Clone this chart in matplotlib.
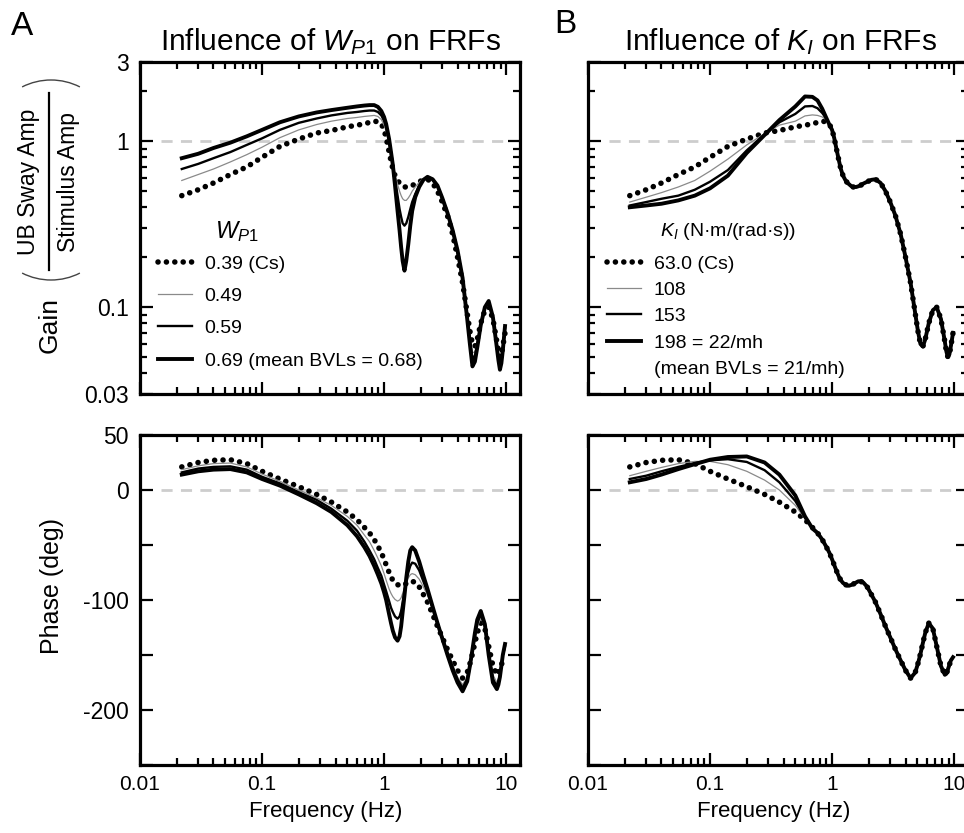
import matplotlib
matplotlib.use("Agg")
import matplotlib.pyplot as plt
from matplotlib.ticker import FixedLocator, FuncFormatter, NullFormatter, LogLocator, MultipleLocator
from matplotlib.lines import Line2D
from matplotlib.patches import Arc

plt.rcParams['font.family'] = ['Liberation Sans', 'DejaVu Sans']
plt.rcParams['mathtext.fontset'] = 'custom'
plt.rcParams['mathtext.rm'] = 'Liberation Sans'
plt.rcParams['mathtext.it'] = 'Liberation Sans:italic'
plt.rcParams['mathtext.bf'] = 'Liberation Sans:bold'

# ---------------- data ----------------
freq = [0.022, 0.03, 0.04, 0.055, 0.075, 0.1, 0.14, 0.2, 0.28, 0.37, 0.5, 0.6, 0.69, 0.76, 0.83,
        0.89, 0.95, 1.0, 1.04, 1.10, 1.14, 1.18, 1.23, 1.29, 1.34, 1.38, 1.42, 1.47, 1.52, 1.58,
        1.64, 1.7, 1.8, 1.94, 2.1, 2.27, 2.5, 2.74, 3.0, 3.31, 3.65, 4.0, 4.4, 4.8, 5.05, 5.3,
        5.55, 5.8, 6.2, 6.7, 7.2, 7.8, 8.4, 8.65, 8.9, 9.15, 9.4, 9.8]

# Gain, Cs (dotted) - common to both panels
gain_cs = [0.47, 0.51, 0.56, 0.63, 0.70, 0.80, 0.93, 1.03, 1.12, 1.16, 1.22, 1.25, 1.27, 1.30, 1.32,
           1.31, 1.27, 1.17, 1.05, 0.86, 0.76, 0.68, 0.62, 0.58, 0.56, 0.55, 0.54, 0.53, 0.53, 0.53,
           0.535, 0.54, 0.555, 0.57, 0.585, 0.59, 0.56, 0.50, 0.43, 0.355, 0.275, 0.20, 0.14, 0.092,
           0.072, 0.06, 0.058, 0.064, 0.08, 0.096, 0.10, 0.085, 0.062, 0.054, 0.05, 0.052, 0.058, 0.07]
# Panel A gain (W_P1)
gain_w049 = [0.58, 0.63, 0.68, 0.75, 0.83, 0.92, 1.05, 1.17, 1.26, 1.32, 1.37, 1.39, 1.41, 1.42, 1.43,
             1.41, 1.35, 1.25, 1.15, 0.97, 0.85, 0.75, 0.64, 0.55, 0.50, 0.47, 0.45, 0.44, 0.44, 0.455,
             0.475, 0.50, 0.53, 0.565, 0.595, 0.61, 0.58, 0.53, 0.45, 0.365, 0.285, 0.21, 0.145, 0.088,
             0.066, 0.053, 0.054, 0.061, 0.079, 0.098, 0.105, 0.085, 0.06, 0.052, 0.047, 0.05, 0.057, 0.073]
gain_w059 = [0.68, 0.73, 0.79, 0.86, 0.95, 1.04, 1.17, 1.29, 1.37, 1.43, 1.48, 1.50, 1.52, 1.53, 1.53,
             1.50, 1.43, 1.33, 1.22, 1.0, 0.86, 0.73, 0.59, 0.47, 0.39, 0.35, 0.32, 0.31, 0.32, 0.35,
             0.39, 0.43, 0.48, 0.54, 0.585, 0.61, 0.59, 0.54, 0.455, 0.37, 0.29, 0.215, 0.148, 0.087,
             0.064, 0.049, 0.051, 0.059, 0.079, 0.099, 0.107, 0.086, 0.058, 0.05, 0.045, 0.048, 0.056, 0.075]
gain_w069 = [0.79, 0.84, 0.91, 0.98, 1.07, 1.17, 1.30, 1.41, 1.49, 1.54, 1.59, 1.62, 1.64, 1.65, 1.65,
             1.61, 1.52, 1.40, 1.27, 1.03, 0.86, 0.72, 0.54, 0.38, 0.29, 0.23, 0.19, 0.166, 0.19, 0.24,
             0.31, 0.38, 0.46, 0.53, 0.585, 0.61, 0.59, 0.54, 0.455, 0.37, 0.29, 0.22, 0.15, 0.085,
             0.06, 0.044, 0.047, 0.057, 0.078, 0.10, 0.109, 0.087, 0.057, 0.048, 0.042, 0.046, 0.055, 0.077]
# Panel B gain (K_I): below 1 Hz differ, above they coincide with Cs
gain_k108 = [0.43, 0.46, 0.49, 0.53, 0.58, 0.66, 0.78, 0.95, 1.11, 1.25, 1.32, 1.42, 1.44, 1.43, 1.40,
             1.35, 1.27] + gain_cs[17:]
gain_k153 = [0.41, 0.43, 0.45, 0.47, 0.51, 0.57, 0.67, 0.88, 1.10, 1.30, 1.46, 1.62, 1.63, 1.58, 1.48,
             1.38, 1.27] + gain_cs[17:]
gain_k198 = [0.40, 0.41, 0.42, 0.44, 0.47, 0.52, 0.62, 0.85, 1.09, 1.34, 1.62, 1.86, 1.85, 1.76, 1.57,
             1.40, 1.26] + gain_cs[17:]

# Phase, Cs (dotted) - common to both panels
phase_cs = [21, 25, 27, 27.5, 24, 17, 10, 3, -4, -11, -20, -27, -34, -39, -45, -51, -57, -63, -68, -75,
            -79, -82, -84.5, -86, -87, -87, -86.5, -86, -85, -84, -83, -83, -84, -88, -95, -102, -113,
            -124, -134, -145, -155, -164, -171, -166, -158, -149, -139, -130, -121, -126, -142, -160,
            -168, -167, -163, -159, -155, -152]
phase_w049 = [18.5, 22, 24, 24.5, 21, 14.5, 8, 0, -7, -14, -24, -32, -41, -47, -55, -62, -69, -76, -82,
              -90, -94, -97, -99.5, -101, -100, -98, -94, -89, -85, -80, -77, -76, -77, -81, -88, -96,
              -109, -122, -134, -147, -159, -170, -177, -170, -160, -148, -136, -125, -116, -124, -146,
              -168, -175, -172, -166, -158, -152, -145]
phase_w059 = [16, 19.5, 21, 21.5, 18.5, 12, 6, -2, -9, -17, -28, -37, -47, -55, -63, -71, -78, -86, -92,
              -101, -107, -111, -115, -117, -115, -110, -102, -92, -83, -75, -69, -66, -67, -73, -83, -93,
              -107, -121, -134, -148, -161, -172, -180, -172, -161, -147, -133, -121, -113, -123, -148,
              -172, -178, -174, -168, -159, -150, -142]
phase_w069 = [14, 17, 18.5, 19, 16, 10, 4, -4, -12, -20, -32, -42, -52, -60, -69, -77, -85, -93, -100,
              -113, -121, -128, -134, -137, -133, -124, -111, -96, -80, -65, -55, -52, -55, -65, -78, -90,
              -106, -121, -135, -150, -164, -175, -183, -174, -160, -145, -130, -118, -110, -122, -150,
              -175, -181, -177, -170, -160, -150, -140]
phase_k108 = [13, 17, 20.5, 24, 26, 26, 23, 17, 9, 0, -14, -26, -34] + phase_cs[13:]
phase_k153 = [10, 13, 17, 21, 24.5, 27, 28, 25.5, 18, 7, -10, -25, -34] + phase_cs[13:]
phase_k198 = [7, 10, 14, 19, 23.5, 27.5, 30, 30.5, 25, 14, -5, -24, -35] + phase_cs[13:]

labels_A = ["0.39 (Cs)", "0.49", "0.59", "0.69 (mean BVLs = 0.68)"]
labels_B = ["63.0 (Cs)", "108", "153", "198 = 22/mh", "(mean BVLs = 21/mh)"]
ref_gain = 1.0
ref_phase = 0.0
ref_freq = [0.015, 10]
gain_ticks = [0.03, 0.1, 1, 3]
gain_ticklabels = ["0.03", "0.1", "1", "3"]
phase_labeled = [50, 0, -100, -200]
freq_ticks = [0.01, 0.1, 1, 10]
freq_ticklabels = ["0.01", "0.1", "1", "10"]

# ---------------- figure ----------------
W, H = 964, 833
fig = plt.figure(figsize=(W / 100, H / 100), dpi=100)


def rect(l, t, r, b):
    return [l / W, 1 - b / H, (r - l) / W, (b - t) / H]


axA1 = fig.add_axes(rect(140, 62, 520, 394))
axA2 = fig.add_axes(rect(140, 435, 520, 765))
axB1 = fig.add_axes(rect(588, 62, 968, 394))
axB2 = fig.add_axes(rect(588, 435, 968, 765))

dot_style = dict(color='black', lw=4.0, linestyle=(0, (0.01, 1.5)), dash_capstyle='round')
thin_style = dict(color='#8a8a8a', lw=0.9)
med_style = dict(color='black', lw=1.7)
thick_style = dict(color='black', lw=2.8)
ref_style = dict(color='#cdcdcd', lw=2.0, linestyle=(0, (4, 3)), zorder=0)


def style_axes(ax, gain, xlabels):
    ax.set_xscale('log')
    ax.set_xlim(0.01, 13)
    ax.xaxis.set_major_locator(FixedLocator(freq_ticks))
    ax.xaxis.set_minor_locator(LogLocator(base=10, subs=range(2, 10)))
    ax.xaxis.set_minor_formatter(NullFormatter())
    if xlabels:
        ax.xaxis.set_major_formatter(FuncFormatter(
            lambda v, p: freq_ticklabels[freq_ticks.index(v)] if v in freq_ticks else ''))
    else:
        ax.xaxis.set_major_formatter(NullFormatter())
    if gain:
        ax.set_yscale('log')
        ax.set_ylim(0.03, 3)
        ax.yaxis.set_major_locator(FixedLocator(gain_ticks))
        ax.yaxis.set_minor_locator(LogLocator(base=10, subs=range(2, 10)))
        ax.yaxis.set_minor_formatter(NullFormatter())
    else:
        ax.set_ylim(-250, 50)
        ax.yaxis.set_major_locator(MultipleLocator(50))
    ax.tick_params(which='both', direction='in', top=True, right=True, width=1.6)
    ax.tick_params(which='major', length=9)
    ax.tick_params(which='minor', length=5)
    ax.tick_params(axis='x', pad=7, labelsize=15)
    ax.tick_params(axis='y', pad=8, labelsize=16.5)
    for s in ax.spines.values():
        s.set_linewidth(2.3)


for ax in (axA1, axB1):
    style_axes(ax, True, False)
for ax in (axA2, axB2):
    style_axes(ax, False, True)

axA1.yaxis.set_major_formatter(FuncFormatter(
    lambda v, p: next((t for g, t in zip(gain_ticks, gain_ticklabels) if abs(g - v) < 1e-9), '')))
axB1.yaxis.set_major_formatter(NullFormatter())
axA2.yaxis.set_major_formatter(FuncFormatter(
    lambda v, p: f"{int(round(v))}" if int(round(v)) in phase_labeled else ''))
axB2.yaxis.set_major_formatter(NullFormatter())

# reference lines
for ax in (axA1, axB1):
    ax.plot(ref_freq, [ref_gain, ref_gain], **ref_style)
for ax in (axA2, axB2):
    ax.plot(ref_freq, [ref_phase, ref_phase], **ref_style)

# Panel A
hA = []
hA.append(axA1.plot(freq, gain_cs, **dot_style)[0])
hA.append(axA1.plot(freq, gain_w049, **thin_style)[0])
hA.append(axA1.plot(freq, gain_w059, **med_style)[0])
hA.append(axA1.plot(freq, gain_w069, **thick_style)[0])
axA2.plot(freq, phase_cs, **dot_style)
axA2.plot(freq, phase_w049, **thin_style)
axA2.plot(freq, phase_w059, **med_style)
axA2.plot(freq, phase_w069, **thick_style)

# Panel B
hB = []
hB.append(axB1.plot(freq, gain_cs, **dot_style)[0])
hB.append(axB1.plot(freq, gain_k108, **thin_style)[0])
hB.append(axB1.plot(freq, gain_k153, **med_style)[0])
hB.append(axB1.plot(freq, gain_k198, **thick_style)[0])
hB.append(Line2D([], [], color='none'))
axB2.plot(freq, phase_cs, **dot_style)
axB2.plot(freq, phase_k108, **thin_style)
axB2.plot(freq, phase_k153, **med_style)
axB2.plot(freq, phase_k198, **thick_style)

# legends
axA1.legend(hA, labels_A, loc='upper left', bbox_to_anchor=(0.047, 0.419), frameon=False,
            fontsize=14, handlelength=1.75, handletextpad=0.65, labelspacing=0.76,
            borderpad=0, borderaxespad=0)
axA1.text(0.197, 0.488, r'$\mathit{W}_{\mathit{P1}}$', transform=axA1.transAxes, fontsize=17,
          va='center', ha='left')
axB1.legend(hB, labels_B, loc='upper left', bbox_to_anchor=(0.05, 0.419), frameon=False,
            fontsize=14, handlelength=1.75, handletextpad=0.65, labelspacing=0.45,
            borderpad=0, borderaxespad=0)
axB1.text(0.19, 0.488, r'$\mathit{K}_{\mathit{I}}$ (N·m/(rad·s))', transform=axB1.transAxes,
          fontsize=14, va='center', ha='left')

# titles and letters
fig.text(331 / W, 1 - 50 / H, r'Influence of $\mathit{W}_{\mathit{P1}}$ on FRFs', fontsize=21.5,
         ha='center', va='baseline')
fig.text(781 / W, 1 - 50 / H, r'Influence of $\mathit{K}_{\mathit{I}}$ on FRFs', fontsize=21.5,
         ha='center', va='baseline')
fig.text(11 / W, 1 - 35 / H, 'A', fontsize=24, ha='left', va='baseline')
fig.text(554 / W, 1 - 33 / H, 'B', fontsize=24, ha='left', va='baseline')

# axis labels
fig.text(326 / W, 1 - 811 / H, 'Frequency (Hz)', fontsize=16, ha='center', va='center')
fig.text(774 / W, 1 - 811 / H, 'Frequency (Hz)', fontsize=16, ha='center', va='center')
fig.text(52 / W, 1 - 586 / H, 'Phase (deg)', fontsize=18, rotation=90, ha='center', va='center')
fig.text(50 / W, 1 - 325 / H, 'Gain', fontsize=19, rotation=90, ha='center', va='center')
fig.text(29 / W, 1 - 182 / H, 'UB Sway Amp', fontsize=16.5, rotation=90, ha='center', va='center')
fig.text(68 / W, 1 - 182 / H, 'Stimulus Amp', fontsize=16.5, rotation=90, ha='center', va='center')

# overlay for fraction bar and parentheses
ov = fig.add_axes([0, 0, 1, 1], zorder=-1)
ov.set_xlim(0, W)
ov.set_ylim(0, H)
ov.axis('off')
ov.plot([49, 49], [H - 93, H - 270], color='black', lw=1.6)
R = 63.6
ov.add_patch(Arc((51, H - 80 - R), 2 * R, 2 * R, theta1=63, theta2=117, color='#444444', lw=1.0))
ov.add_patch(Arc((51, H - 280 + R), 2 * R, 2 * R, theta1=243, theta2=297, color='#444444', lw=1.0))

fig.savefig('out.png', dpi=100)
